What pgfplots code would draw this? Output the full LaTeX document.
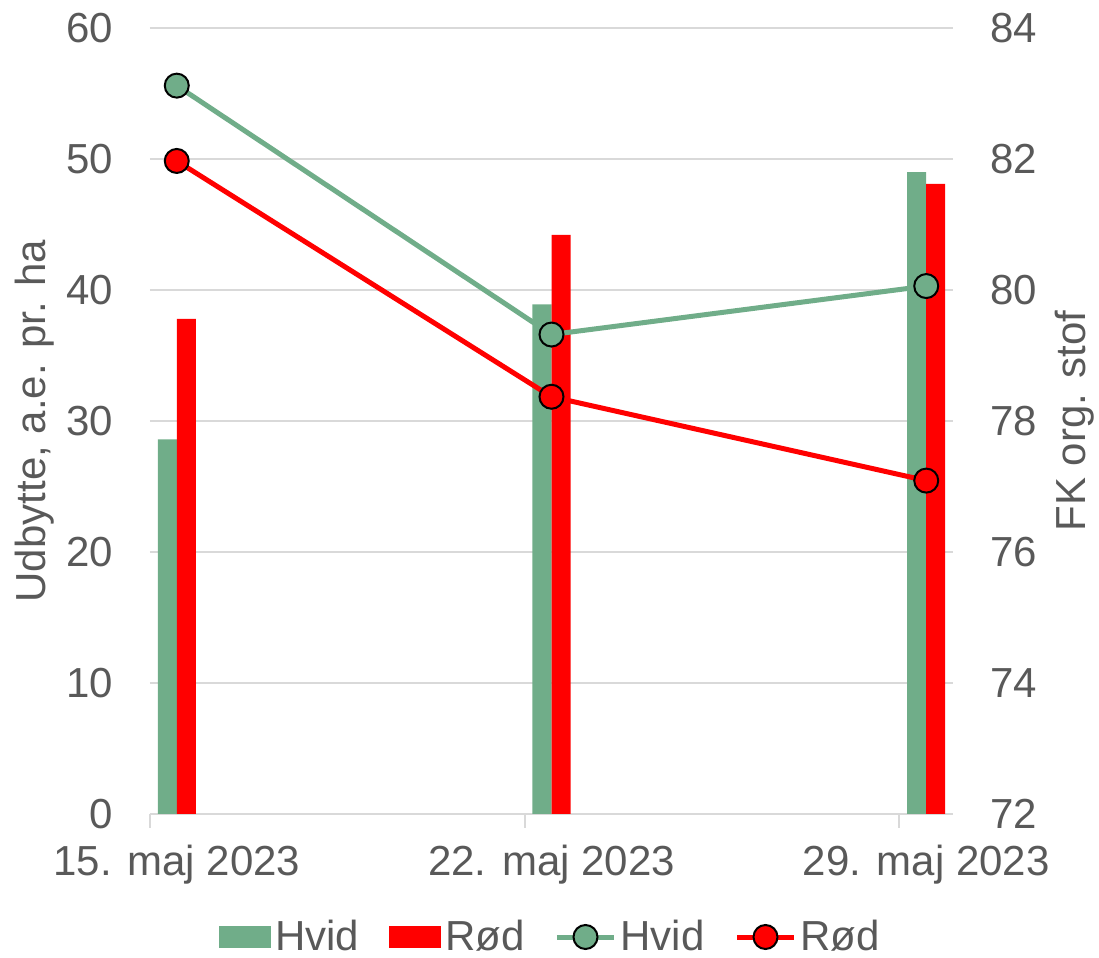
\documentclass[border=0pt]{standalone}
\usepackage{pgfplots}
\pgfplotsset{compat=1.18}
\usepackage{fontspec}
\setmainfont{Liberation Sans}
\definecolor{hvid}{RGB}{112,173,137}
\definecolor{txt}{RGB}{89,89,89}
\definecolor{gridc}{RGB}{217,217,217}
\newcommand{\bigf}{\fontsize{21}{25}\selectfont}
\pgfplotsset{
  base/.style={
    scale only axis, width=401.5pt, height=393pt,
    xmin=-0.5, xmax=14.5,
    tick label style={font=\bigf, text=txt},
    label style={font=\bigf, text=txt},
    /pgf/number format/assume math mode=true,
    major tick length=0pt,
  },
  barleg/.style={legend image code/.code={\fill[##1] (0pt,-5.5pt) rectangle (26pt,5.5pt);}},
  lineleg/.style={legend image code/.code={\draw[mark repeat=2,mark phase=2,##1]
    plot coordinates {(0pt,0pt)(14.25pt,0pt)(28.5pt,0pt)};}},
}
\begin{document}
\begin{tikzpicture}
\path[use as bounding box] (-75pt,-72pt) rectangle (474.5pt,407pt);
% left axis: bars (Udbytte)
\begin{axis}[base,
  ymin=0, ymax=60, ytick={0,10,...,60},
  axis x line*=bottom, axis y line*=left,
  x axis line style={-, draw=gridc, line width=1pt},
  y axis line style={draw=none},
  ymajorgrids, grid style={gridc, line width=1pt},
  xtick={0,7,14},
  xticklabels={15. maj 2023, 22. maj 2023, 29. maj 2023},
  xticklabel style={yshift=-12pt},
  yticklabel style={xshift=-15pt},
  extra x ticks={-0.5,6.5,13.5}, extra x tick labels={},
  extra x tick style={major tick length=7pt, tick align=outside,
    tick style={draw=gridc, line width=1pt}},
  ylabel={Udbytte, a.e. pr. ha},
  ylabel style={at={(axis description cs:-0.1432,0.5)}, anchor=center},
]
\addplot[ybar, bar width=0.355, bar shift=-0.1775, fill=hvid, draw=none]
  coordinates {(0,28.6) (7,38.9) (14,49.0)};
\addplot[ybar, bar width=0.355, bar shift=0.1775, fill=red, draw=none]
  coordinates {(0,37.8) (7,44.2) (14,48.1)};
\end{axis}
% right axis: lines (FK org. stof)
\begin{axis}[base,
  ymin=72, ymax=84, ytick={72,74,...,84},
  axis x line=none, axis y line*=right,
  y axis line style={draw=none},
  yticklabel style={xshift=15pt},
  ylabel={FK org. stof},
  ylabel style={at={(axis description cs:1.1519,0.5)}, anchor=center},
  legend columns=4,
  legend style={draw=none, fill=none, font=\bigf, text=txt,
    at={(0.5,-0.1565)}, anchor=center,
    /tikz/every even column/.append style={column sep=13pt}},
]
\addlegendimage{fill=hvid, draw=none, barleg}
\addlegendentry{Hvid}
\addlegendimage{fill=red, draw=none, barleg}
\addlegendentry{Rød}
\addplot[hvid, line width=2.5pt, mark=*, mark size=6pt,
  mark options={fill=hvid, draw=black, line width=1pt}, lineleg]
  coordinates {(0,83.12) (7,79.32) (14,80.06)};
\addlegendentry{Hvid}
\addplot[red, line width=2.5pt, mark=*, mark size=6pt,
  mark options={fill=red, draw=black, line width=1pt}, lineleg]
  coordinates {(0,81.97) (7,78.37) (14,77.09)};
\addlegendentry{Rød}
\end{axis}
\end{tikzpicture}
\end{document}
